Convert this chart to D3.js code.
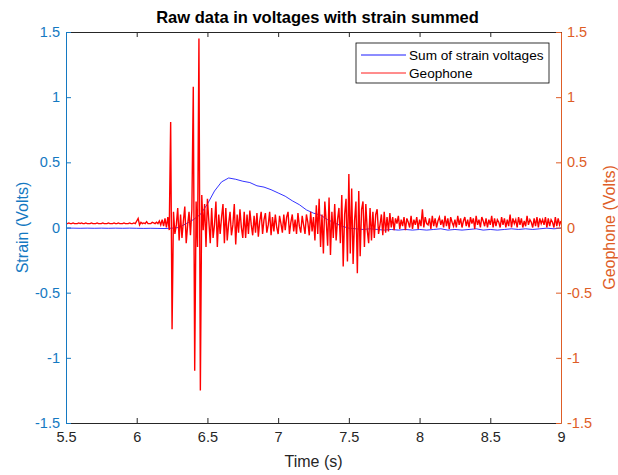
<!DOCTYPE html>
<html>
<head>
<meta charset="utf-8">
<script src="https://cdn.jsdelivr.net/npm/d3@7"></script>
<style>
  body { margin: 0; background: #fff; }
  svg { display: block; font-family: "Liberation Sans", Arial, sans-serif; }
</style>
</head>
<body>
<div id="container"></div>
<script>
// data
let xTicks = [5.5, 6, 6.5, 7, 7.5, 8, 8.5, 9];
let yTicks = [-1.5, -1, -0.5, 0, 0.5, 1, 1.5];

// strain sum, one value every 0.05 s from 5.5 s
let strainStart = 5.5;
let strainStep = 0.05;
let strain = [
  -0.005, -0.005, -0.006, -0.005, -0.006, -0.005, -0.006, -0.005, -0.006, -0.005,
  -0.006, -0.007, -0.006, -0.007, -0.008, -0.005, 0.0, 0.03, 0.06, 0.10,
  0.18, 0.28, 0.35, 0.38, 0.37, 0.355, 0.345, 0.32, 0.31, 0.29,
  0.265, 0.24, 0.205, 0.175, 0.135, 0.11, 0.095, 0.06, 0.035, 0.01,
  -0.005, -0.01, -0.015, -0.01, -0.015, -0.02, -0.015, -0.02, -0.015, -0.02,
  -0.015, -0.02, -0.015, -0.01, -0.02, -0.015, -0.02, -0.015, -0.01, -0.02,
  -0.015, -0.02, -0.015, -0.01, -0.015, -0.01, -0.015, -0.01, -0.005, -0.01,
  -0.005
];

// geophone, one value every 0.01 s from 5.5 s
let geoStart = 5.5;
let geoStep = 0.01;
let geophone = [
  0.03, 0.03, 0.035, 0.03, 0.03, 0.035, 0.03, 0.03, 0.03, 0.035,
  0.03, 0.035, 0.03, 0.03, 0.035, 0.03, 0.03, 0.03, 0.035, 0.03,
  0.03, 0.03, 0.035, 0.03, 0.03, 0.03, 0.035, 0.03, 0.03, 0.03,
  0.035, 0.03, 0.03, 0.03, 0.035, 0.03, 0.03, 0.035, 0.03, 0.03,
  0.03, 0.035, 0.03, 0.03, 0.03, 0.035, 0.03, 0.03, 0.035, 0.03,
  0.05, 0.07, 0.02, 0.04, 0.03, 0.035, 0.03, 0.045, 0.03, 0.03,
  0.03, 0.04, 0.035, 0.03, 0.04, 0.03, 0.05, 0.02, 0.06, 0.01,
  0.07, 0.0, 0.08, -0.02, 0.81, -0.78, 0.12, -0.05, 0.02, 0.15,
  -0.1, 0.1, -0.08, 0.05, 0.16, -0.12, 0.02, 0.12, -0.06, 0.14,
  1.08, -1.1, 0.2, -0.15, 1.45, -1.25, 0.25, -0.02, 0.18, -0.15,
  0.22, 0.05, -0.12, 0.15, -0.08, 0.02, 0.2, -0.15, 0.1, -0.05,
  0.08, 0.18, -0.12, 0.15, -0.1, 0.03, 0.12, -0.06, 0.02, 0.18,
  -0.13, 0.1, -0.04, 0.14, 0.0, -0.08, 0.12, -0.08, 0.1, -0.05,
  0.13, 0.02, -0.06, 0.09, -0.04, 0.11, -0.07, 0.05, 0.12, -0.05,
  0.06, 0.11, -0.04, 0.02, 0.12, -0.06, 0.08, -0.03, 0.1, 0.0,
  -0.05, 0.09, 0.03, -0.04, 0.1, -0.02, 0.08, 0.12, -0.05, 0.04,
  0.1, -0.03, 0.06, -0.05, 0.11, 0.01, -0.04, 0.09, 0.02, -0.05,
  0.1, 0.04, -0.06, 0.12, -0.03, 0.08, -0.1, 0.17, -0.05, 0.22,
  -0.15, 0.1, -0.2, 0.2, 0.05, -0.14, 0.23, -0.21, 0.12, -0.08,
  0.18, -0.1, 0.06, 0.15, -0.12, 0.25, -0.3, 0.1, 0.22, -0.26,
  0.41, -0.2, 0.3, -0.28, 0.05, 0.2, -0.35, 0.28, -0.22, 0.14,
  0.2, -0.15, 0.18, -0.02, -0.12, 0.15, -0.1, 0.12, -0.08, 0.1,
  0.14, -0.05, 0.02, 0.1, -0.06, 0.12, -0.04, 0.08, -0.03, 0.11,
  0.0, 0.08, -0.02, 0.07, 0.03, 0.09, -0.01, 0.06, 0.01, 0.08,
  -0.02, 0.07, 0.04, 0.0, 0.09, -0.01, 0.06, 0.02, 0.08, -0.01,
  0.06, 0.01, 0.14, 0.0, 0.08, 0.03, 0.02, 0.07, -0.01, 0.09,
  0.01, 0.07, 0.0, 0.05, 0.08, 0.02, 0.06, 0.0, 0.09, 0.01,
  0.07, -0.01, 0.08, 0.04, 0.01, 0.06, 0.0, 0.09, 0.02, 0.07,
  0.0, 0.05, 0.08, 0.01, 0.06, 0.0, 0.08, 0.03, 0.07, -0.01,
  0.09, 0.02, 0.06, 0.0, 0.08, 0.05, 0.01, 0.07, 0.0, 0.06,
  0.02, 0.09, 0.0, 0.07, 0.01, 0.06, 0.04, 0.0, 0.08, 0.02,
  0.07, 0.0, 0.06, 0.01, 0.1, 0.0, 0.07, 0.03, 0.06, 0.0,
  0.08, 0.02, 0.07, 0.0, 0.05, 0.01, 0.09, 0.02, 0.06, 0.04,
  0.0, 0.07, 0.01, 0.08, 0.0, 0.07, 0.03, 0.06, 0.02, 0.08,
  0.0, 0.07, 0.01, 0.06, 0.04, 0.0, 0.08, 0.01, 0.07, 0.02,
  0.05
];

let seriesNames = ["Sum of strain voltages", "Geophone"];

// page setup
let w = 618;
let h = 475;
let plotLeft = 66, plotRight = 561, plotTop = 32, plotBottom = 423;
let leftColor = "#1479c2";
let rightColor = "#de5d26";
let dark = "#262626";
let tickFont = 14.5;
let labelFont = 16;

let viz = d3.select("#container")
  .append("svg")
    .attr("width", w)
    .attr("height", h)
;

let xScale = d3.scaleLinear().domain([5.5, 9]).range([plotLeft, plotRight]);
let yLeft = d3.scaleLinear().domain([-1.5, 1.5]).range([plotBottom, plotTop]);
let yRight = d3.scaleLinear().domain([-1.5, 1.5]).range([plotBottom, plotTop]);

// lines
let strainPts = strain.map((v, i) => [strainStart + i * strainStep, v]);
let geoPts = geophone.map((v, i) => [geoStart + i * geoStep, v]);

viz.append("defs").append("clipPath").attr("id", "plotClip")
  .append("rect").attr("x", plotLeft).attr("y", plotTop)
  .attr("width", plotRight - plotLeft).attr("height", plotBottom - plotTop);

let lineGroup = viz.append("g").attr("clip-path", "url(#plotClip)");

lineGroup.append("path")
  .datum(strainPts)
  .attr("d", d3.line().x(d => xScale(d[0])).y(d => yLeft(d[1])))
  .attr("fill", "none")
  .attr("stroke", "#0000FF")
  .attr("stroke-width", 0.8);

lineGroup.append("path")
  .datum(geoPts)
  .attr("d", d3.line().x(d => xScale(d[0])).y(d => yRight(d[1])))
  .attr("fill", "none")
  .attr("stroke", "#FF0000")
  .attr("stroke-width", 1.4);

// axes
function styleAxis(g, color) {
  g.select(".domain").attr("stroke", color);
  g.selectAll(".tick line").attr("stroke", color);
  g.selectAll(".tick text").attr("fill", color).attr("font-size", tickFont)
    .attr("font-family", "Liberation Sans, Arial, sans-serif");
}

let xAxisBottom = viz.append("g")
  .attr("transform", "translate(0," + plotBottom + ")")
  .call(d3.axisBottom(xScale).tickValues(xTicks).tickFormat(d => String(d))
    .tickSizeInner(-5).tickSizeOuter(0).tickPadding(8.5));
styleAxis(xAxisBottom, dark);

let xAxisTop = viz.append("g")
  .attr("transform", "translate(0," + plotTop + ")")
  .call(d3.axisTop(xScale).tickValues(xTicks).tickFormat("")
    .tickSizeInner(-5).tickSizeOuter(0));
styleAxis(xAxisTop, dark);

let yAxisLeft = viz.append("g")
  .attr("transform", "translate(" + plotLeft + ",0)")
  .call(d3.axisLeft(yLeft).tickValues(yTicks).tickFormat(d => String(d))
    .tickSizeInner(-5).tickSizeOuter(0).tickPadding(6));
styleAxis(yAxisLeft, leftColor);

let yAxisRight = viz.append("g")
  .attr("transform", "translate(" + plotRight + ",0)")
  .call(d3.axisRight(yRight).tickValues(yTicks).tickFormat(d => String(d))
    .tickSizeInner(-5).tickSizeOuter(0).tickPadding(6));
styleAxis(yAxisRight, rightColor);

// labels
viz.append("text")
  .attr("x", (plotLeft + plotRight) / 2 + 4).attr("y", 23)
  .attr("text-anchor", "middle")
  .attr("font-size", 16.5).attr("font-weight", "bold")
  .attr("fill", "#000")
  .text("Raw data in voltages with strain summed");

viz.append("text")
  .attr("x", (plotLeft + plotRight) / 2).attr("y", 467)
  .attr("text-anchor", "middle")
  .attr("font-size", labelFont).attr("fill", dark)
  .text("Time (s)");

viz.append("text")
  .attr("transform", "translate(28," + (plotTop + plotBottom) / 2 + ") rotate(-90)")
  .attr("text-anchor", "middle")
  .attr("font-size", labelFont).attr("fill", leftColor)
  .text("Strain (Volts)");

viz.append("text")
  .attr("transform", "translate(615," + (plotTop + plotBottom) / 2 + ") rotate(-90)")
  .attr("text-anchor", "middle")
  .attr("font-size", labelFont).attr("fill", rightColor)
  .text("Geophone (Volts)");

// legend
let legend = viz.append("g").attr("transform", "translate(356,43)");
legend.append("rect")
  .attr("width", 193).attr("height", 40)
  .attr("fill", "#fff").attr("stroke", "#000").attr("stroke-width", 0.8);
let legendColors = ["#0000FF", "#FF0000"];
seriesNames.forEach(function(name, i) {
  let yy = 12 + i * 18;
  legend.append("line")
    .attr("x1", 5).attr("x2", 50).attr("y1", yy).attr("y2", yy)
    .attr("stroke", legendColors[i]).attr("stroke-width", 0.9);
  legend.append("text")
    .attr("x", 53).attr("y", yy + 4.5)
    .attr("font-size", 13.6).attr("fill", "#000")
    .text(name);
});
</script>
</body>
</html>
